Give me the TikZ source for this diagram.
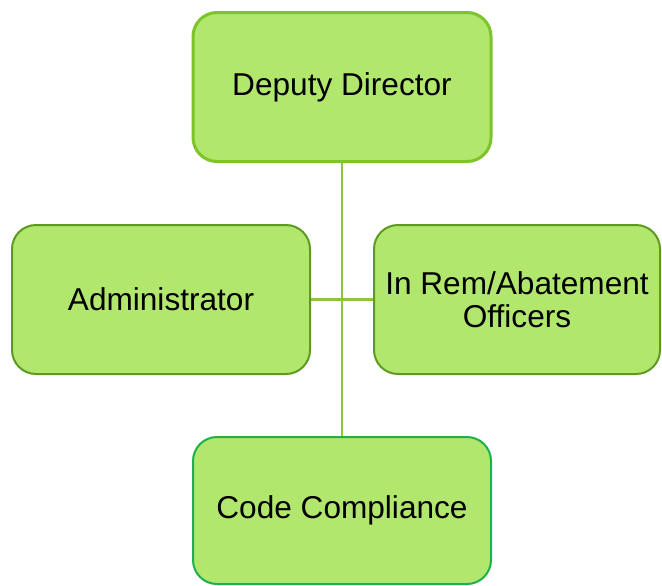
\documentclass[tikz,border=0pt]{standalone}
\usepackage{fontspec}
\setmainfont{Liberation Sans}
\definecolor{LeafFill}{HTML}{B2E76E}
\definecolor{LimeLine}{HTML}{7DC42B}
\definecolor{MossLine}{HTML}{5E9A20}
\definecolor{JadeLine}{HTML}{1DB14B}
\definecolor{StemLine}{HTML}{8CC63F}
\tikzset{
  OrgBox/.style={
      draw, fill=LeafFill, rounded corners=12pt,
      minimum width=149pt, minimum height=74.5pt,
      inner sep=0pt, align=center,
      font=\fontsize{15.8}{16.5}\selectfont
    },
  Stem/.style={StemLine, line width=1.4pt}
}

\begin{document}
\begin{tikzpicture}[x=0.5pt,y=-0.5pt]
  \useasboundingbox (0,0) rectangle (662,585);
  \node[OrgBox, draw=LimeLine, line width=1.5pt] (dd) at (342,87) {Deputy Director};
  \node[OrgBox, draw=MossLine, line width=1pt] (adm) at (161,299.5) {Administrator};
  \node[OrgBox, draw=MossLine, line width=1pt, minimum width=143pt] (rem) at (517,299.5) {In Rem/Abatement\\Officers};
  \node[OrgBox, draw=JadeLine, line width=1pt, minimum height=73.5pt] (cc) at (342,510.5) {Code Compliance};

  \draw[Stem] (adm.east) -- (rem.west);
  \draw[Stem] (dd.south) -- (cc.north);
\end{tikzpicture}
\end{document}
